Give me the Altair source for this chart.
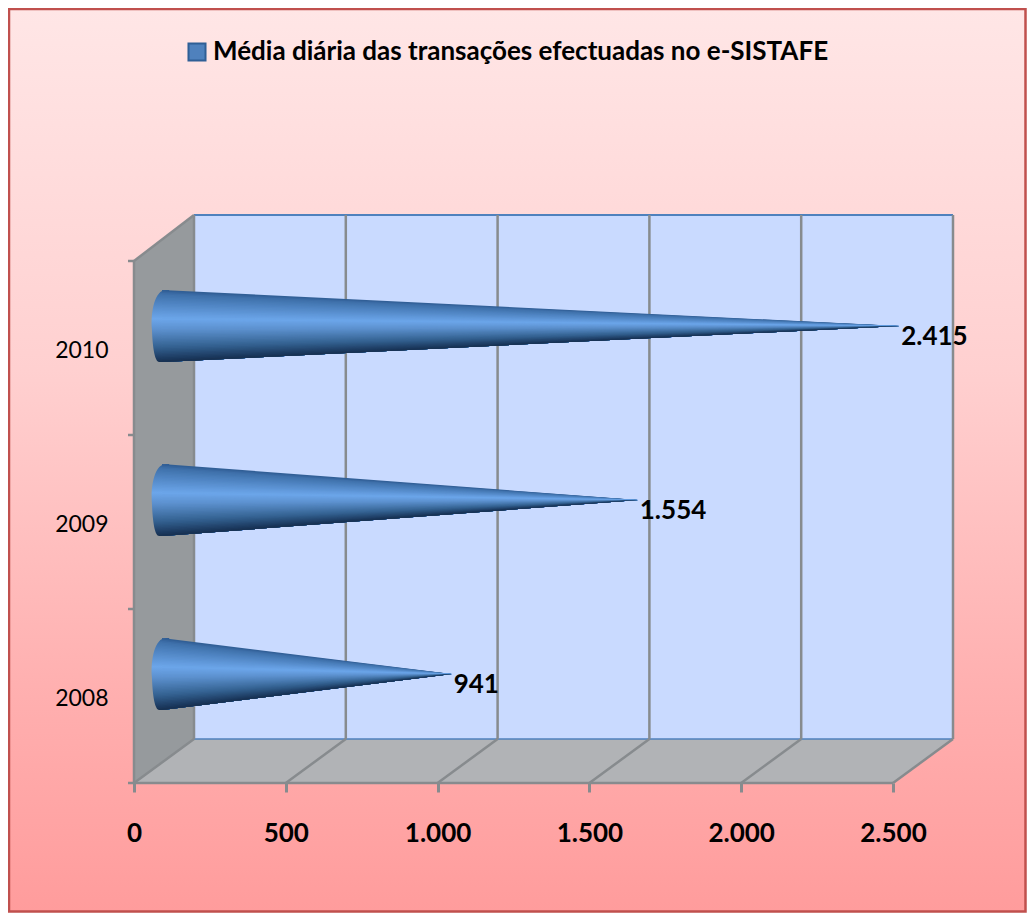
import altair as alt
import pandas as pd

years = ["2008", "2009", "2010"]
values = [941, 1554, 2415]
value_labels = ["941", "1.554", "2.415"]
series_name = "Média diária das transações efectuadas no e-SISTAFE"
x_ticks = [0, 500, 1000, 1500, 2000, 2500]
y_cats = [0, 1, 2, 3]

PX = 759 / 2500          # px per value unit on the front axis
DX = 60 / PX             # chart depth in value units
YPX = 174.0              # px per category
DY = 44 / YPX            # depth in category units
YTOP = (783 - 215) / YPX
XMAX = 820 / PX
MIDX = 32 / PX
MIDY = 22 / YPX
BASEX = 28 / PX
HALF = 36 / YPX

xs = alt.Scale(domain=[0, XMAX], nice=False, zero=False)
ys = alt.Scale(domain=[0, YTOP], nice=False, zero=False)
GREY = "#878B8E"

x_axis = alt.Axis(
    values=x_ticks, domain=False, grid=False, tickSize=9, tickWidth=3, tickColor=GREY, title=None,
    labelFont="Lato", labelFontWeight="bold", labelFontSize=26, labelColor="black",
    labelPadding=28, labelExpr="replace(format(datum.value, ','), ',', '.')", labelFlush=False, zindex=1)
y_axis = alt.Axis(
    values=[0.5, 1.5, 2.5], domain=False, grid=False, ticks=False, title=None,
    labelFont="Lato", labelFontSize=23, labelColor="black", labelPadding=26, labelOffset=2,
    labelExpr="datum.value == 0.5 ? '2008' : datum.value == 1.5 ? '2009' : '2010'", zindex=1)
X = lambda f="x": alt.X(f"{f}:Q", scale=xs, axis=x_axis)
Y = lambda f="y": alt.Y(f"{f}:Q", scale=ys, axis=y_axis)


def hexmix(a, b, t):
    pa = [int(a[i:i + 2], 16) for i in (1, 3, 5)]
    pb = [int(b[i:i + 2], 16) for i in (1, 3, 5)]
    return "#%02x%02x%02x" % tuple(round(p + (q - p) * t) for p, q in zip(pa, pb))


STOPS = [(0, "#2E5B92"), (0.06, "#3F71AB"), (0.40, "#6CA6EA"), (0.55, "#5C90CE"),
         (0.80, "#33608F"), (0.95, "#1C3A60"), (1, "#17304F")]


def shade(t):
    for (a, ca), (b, cb) in zip(STOPS, STOPS[1:]):
        if t <= b:
            return hexmix(ca, cb, (t - a) / (b - a))
    return STOPS[-1][1]


# background panel
bg = alt.Chart(pd.DataFrame({"a": [0]})).mark_rect(
    fill=alt.Gradient(gradient="linear", x1=0, y1=0, x2=0, y2=1, stops=[
        alt.GradientStop(offset=0, color="#FFE6E6"),
        alt.GradientStop(offset=0.4, color="#FFD0D0"),
        alt.GradientStop(offset=0.75, color="#FFB0B0"),
        alt.GradientStop(offset=1, color="#FF9C9C")]),
    stroke="#C0504D", strokeWidth=2.5,
).encode(x=alt.value(-125), x2=alt.value(891.5), y=alt.value(-206), y2=alt.value(696.5))

# hidden point (under the back wall) carrying the legend
legend_pt = alt.Chart(pd.DataFrame({"s": [series_name], "x": [DX + 50], "y": [1.0]})).mark_square(size=1, opacity=1).encode(
    x=X(), y=Y(),
    color=alt.Color("s:N", scale=alt.Scale(range=["#4F81BD"]), legend=alt.Legend(
        orient="none", legendX=50, legendY=-176, title=None, symbolType="square", symbolSize=290,
        symbolOpacity=1, symbolStrokeColor="#2F5F96", symbolStrokeWidth=2, labelFont="Lato",
        labelFontWeight="bold", labelFontSize=26, labelColor="black", labelLimit=900,
        labelOffset=3, padding=0, offset=0)),
)

# back wall
wall = alt.Chart(pd.DataFrame({"x": [DX], "x2": [2500 + DX], "y": [DY], "y2": [YTOP]})).mark_rect(
    fill="#C9DAFF").encode(x=X(), x2="x2:Q", y=Y(), y2="y2:Q")

# left wall
left = alt.Chart(pd.DataFrame({"x": [0, DX], "y": [3, YTOP], "y2": [0, DY]})).mark_area(
    fill="#969A9D", orient="vertical"
).encode(x=X(), y=Y(), y2="y2:Q")

# floor
floor = alt.Chart(pd.DataFrame({"y": [0, DY], "x": [0, DX], "x2": [2500, 2500 + DX]})).mark_area(
    fill="#B1B3B6", orient="horizontal"
).encode(y=Y(), x=X(), x2="x2:Q")

# structural lines
lines = []
for t in x_ticks:
    lines.append(dict(x=t + DX, x2=t + DX, y=DY, y2=YTOP))
    lines.append(dict(x=t, x2=t + DX, y=0, y2=DY))
lines += [dict(x=0, x2=DX, y=3, y2=YTOP),
          dict(x=0, x2=0, y=0, y2=3),
          dict(x=0, x2=2500, y=0, y2=0)]
for c in y_cats:
    lines.append(dict(x=-6 / PX, x2=0, y=c, y2=c))
rules = alt.Chart(pd.DataFrame(lines)).mark_rule(color=GREY, strokeWidth=2.5).encode(
    x=X(), x2="x2:Q", y=Y(), y2="y2:Q")
wall_edge = alt.Chart(pd.DataFrame({"x": [DX], "x2": [2500 + DX], "y": [YTOP], "y2": [YTOP]})).mark_rule(
    color="#4F81BD", strokeWidth=2).encode(x=X(), x2="x2:Q", y=Y(), y2="y2:Q")
floor_edge = alt.Chart(pd.DataFrame({"x": [DX], "x2": [2500 + DX], "y": [DY], "y2": [DY]})).mark_rule(
    color="#4F81BD", strokeWidth=1.5).encode(x=X(), x2="x2:Q", y=Y(), y2="y2:Q")

# cones: nested triangles painted from the full cone inwards, so the shading converges on the tip
centres = [i + 0.5 + MIDY for i in range(len(values))]
N = 48
rows = []
for yr, v, c in zip(years, values, centres):
    for k in range(N):
        top = c + HALF * (1 - 2 * k / N)
        bot = c - HALF
        col = shade((k + 0.5) / N)
        key = f"{yr}-{k:02d}"
        rows.append(dict(key=key, col=col, x=BASEX, y=top, y2=bot))
        rows.append(dict(key=key, col=col, x=v + MIDX, y=c, y2=c))
cones = alt.Chart(pd.DataFrame(rows)).mark_area(orient="vertical").encode(
    x=X(), y=Y(), y2="y2:Q",
    fill=alt.Fill("col:N", scale=None, legend=None),
    detail="key:N",
)

bases = alt.Chart(pd.DataFrame({"x": [BASEX] * 3, "y": centres})).mark_point(
    shape="M 0.11 -1 C -0.2 -1 -0.32 -0.4 -0.28 0.1 C -0.26 0.6 -0.2 1 -0.08 1 L 0.2 1 L 0.2 -1 Z",
    size=5184, filled=True, opacity=1,
    fill=alt.Gradient(gradient="linear", x1=0, y1=0, x2=0, y2=1,
                      stops=[alt.GradientStop(offset=o, color=c) for o, c in STOPS]),
).encode(x=X(), y=Y())

# value labels
labels = alt.Chart(pd.DataFrame({
    "x": [v + MIDX for v in values], "y": centres, "t": value_labels})).mark_text(
    align="left", baseline="middle", dx=2, dy=11, font="Lato", fontWeight="bold", fontSize=26, color="black"
).encode(x=X(), y=Y(), text="t:N")

chart = alt.layer(bg, legend_pt, wall, left, floor, floor_edge, wall_edge, rules, bases, cones, labels).resolve_scale(
    color="independent", fill="independent"
).properties(
    width=820, height=568,
    padding={"left": 126, "top": 207, "right": 73, "bottom": 130},
    autosize=alt.AutoSizeParams(type="none"),
).configure_view(stroke=None)

chart.save("out.html", embed_options={"renderer": "svg", "actions": False})
